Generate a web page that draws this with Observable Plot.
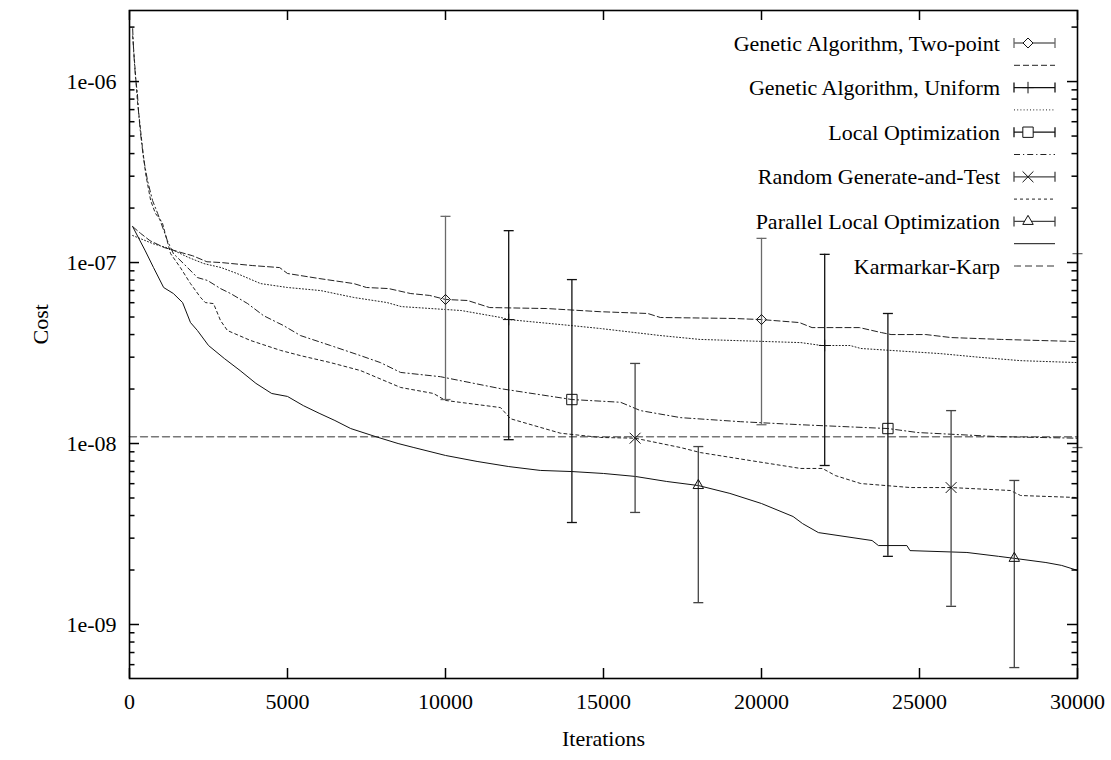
<!DOCTYPE html>
<html>
<head>
<meta charset="utf-8">
<script src="https://cdn.jsdelivr.net/npm/d3@7"></script>
<script src="https://cdn.jsdelivr.net/npm/@observablehq/plot@0.6"></script>
<style>
html, body { margin: 0; padding: 0; background: #fff; }
#wrap { position: relative; width: 1111px; height: 760px; }
#wrap > svg { display: block; }
#legend { position: absolute; left: 0; top: 0; pointer-events: none; }
</style>
</head>
<body>
<div id="wrap"></div>
<script>
// ---------- Data ----------
const seriesNames = [
  "Genetic Algorithm, Two-point",
  "Genetic Algorithm, Uniform",
  "Local Optimization",
  "Random Generate-and-Test",
  "Parallel Local Optimization"
];
const kkName = "Karmarkar-Karp";

const ga2It   = [100, 350, 650, 1100, 1600, 2000, 2450, 2900, 3900, 4750, 5000, 6000, 7100, 7500, 8200, 8900, 9500, 10000, 10700, 11400, 13200, 14900, 16400, 16800, 19100, 20000, 21200, 21600, 23100, 23800, 24100, 25200, 26000, 27600, 30000];
const ga2Cost = [1.58e-7, 1.45e-7, 1.32e-7, 1.21e-7, 1.14e-7, 1.09e-7, 1.01e-7, 1.00e-7, 9.62e-8, 9.38e-8, 8.70e-8, 8.16e-8, 7.65e-8, 7.28e-8, 7.18e-8, 6.74e-8, 6.58e-8, 6.25e-8, 6.17e-8, 5.64e-8, 5.57e-8, 5.35e-8, 5.23e-8, 4.97e-8, 4.91e-8, 4.84e-8, 4.66e-8, 4.37e-8, 4.37e-8, 4.10e-8, 4.00e-8, 4.00e-8, 3.85e-8, 3.76e-8, 3.66e-8];

const gauIt   = [100, 750, 1300, 1850, 2350, 2900, 3400, 4150, 5000, 6050, 7100, 8150, 8600, 10500, 11750, 12000, 13950, 14900, 16800, 18050, 21250, 21900, 22800, 23150, 25650, 26950, 28200, 30000];
const gauCost = [1.41e-7, 1.27e-7, 1.19e-7, 1.07e-7, 9.87e-8, 9.38e-8, 8.70e-8, 7.65e-8, 7.28e-8, 7.00e-8, 6.41e-8, 6.01e-8, 5.71e-8, 5.43e-8, 4.97e-8, 4.84e-8, 4.49e-8, 4.32e-8, 3.95e-8, 3.76e-8, 3.61e-8, 3.48e-8, 3.48e-8, 3.35e-8, 3.14e-8, 2.99e-8, 2.87e-8, 2.80e-8];

const loIt   = [100, 130, 190, 250, 290, 350, 440, 570, 730, 890, 1200, 1390, 1710, 2150, 2470, 2880, 3200, 3740, 4240, 4680, 4870, 5410, 6360, 7310, 7940, 8580, 9840, 11740, 14000, 15540, 16170, 17440, 19340, 21240, 24000, 24940, 27570, 30000];
const loCost = [1.96e-6, 1.48e-6, 1.05e-6, 8.59e-7, 6.65e-7, 5.16e-7, 3.80e-7, 2.84e-7, 2.20e-7, 1.87e-7, 1.32e-7, 1.12e-7, 9.87e-8, 8.26e-8, 7.96e-8, 7.18e-8, 6.74e-8, 5.93e-8, 5.09e-8, 4.66e-8, 4.49e-8, 3.95e-8, 3.48e-8, 3.06e-8, 2.80e-8, 2.47e-8, 2.34e-8, 2.01e-8, 1.75e-8, 1.69e-8, 1.52e-8, 1.39e-8, 1.32e-8, 1.27e-8, 1.21e-8, 1.15e-8, 1.09e-8, 1.07e-8];

const rgtIt   = [100, 250, 410, 510, 670, 820, 1040, 1300, 1610, 1930, 2250, 2400, 2660, 2880, 3100, 3830, 4780, 5410, 6360, 7310, 8580, 9620, 10000, 11740, 12060, 13640, 14900, 16000, 17440, 18070, 19650, 21240, 21930, 22340, 23140, 24720, 26000, 27880, 28200, 30000];
const rgtCost = [1.79e-6, 7.85e-7, 4.32e-7, 3.10e-7, 2.20e-7, 1.87e-7, 1.66e-7, 1.12e-7, 9.38e-8, 7.65e-8, 6.41e-8, 6.01e-8, 5.93e-8, 4.78e-8, 4.21e-8, 3.71e-8, 3.27e-8, 3.06e-8, 2.80e-8, 2.53e-8, 2.04e-8, 1.89e-8, 1.73e-8, 1.58e-8, 1.37e-8, 1.14e-8, 1.08e-8, 1.07e-8, 9.50e-9, 8.91e-9, 8.05e-9, 7.28e-9, 7.28e-9, 6.65e-9, 6.01e-9, 5.71e-9, 5.71e-9, 5.50e-9, 5.16e-9, 5.03e-9];

const ploIt   = [100, 500, 760, 1080, 1390, 1680, 1930, 2150, 2500, 3000, 3500, 4000, 4500, 5000, 5500, 6000, 6500, 7000, 7800, 8500, 9000, 10000, 11000, 12000, 13000, 14000, 15000, 16000, 17000, 18000, 19000, 20000, 21000, 21300, 21800, 23500, 23700, 24600, 24700, 26500, 27500, 28000, 29000, 29500, 30000];
const ploCost = [1.58e-7, 1.16e-7, 9.38e-8, 7.28e-8, 6.74e-8, 6.01e-8, 4.66e-8, 4.21e-8, 3.48e-8, 2.95e-8, 2.53e-8, 2.15e-8, 1.89e-8, 1.82e-8, 1.62e-8, 1.47e-8, 1.34e-8, 1.21e-8, 1.09e-8, 1.00e-8, 9.50e-9, 8.59e-9, 7.96e-9, 7.46e-9, 7.10e-9, 7.00e-9, 6.83e-9, 6.58e-9, 6.17e-9, 5.86e-9, 5.30e-9, 4.66e-9, 3.95e-9, 3.61e-9, 3.22e-9, 2.91e-9, 2.73e-9, 2.73e-9, 2.56e-9, 2.50e-9, 2.38e-9, 2.32e-9, 2.20e-9, 2.12e-9, 1.99e-9];

const kkIt   = [0, 30000];
const kkCost = [1.09e-8, 1.09e-8];

// error bars (iteration, value, low, high)
const ga2ErrIt = [10000, 20000, 30000];
const ga2ErrVal = [6.25e-8, 4.84e-8, 3.66e-8];
const ga2ErrLo = [1.75e-8, 1.27e-8, 9.5e-9];
const ga2ErrHi = [1.80e-7, 1.36e-7, 1.12e-7];

const gauErrIt = [12000, 22000];
const gauErrVal = [4.84e-8, 3.48e-8];
const gauErrLo = [1.05e-8, 7.56e-9];
const gauErrHi = [1.50e-7, 1.11e-7];

const loErrIt = [14000, 24000];
const loErrVal = [1.75e-8, 1.21e-8];
const loErrLo = [3.66e-9, 2.38e-9];
const loErrHi = [8.05e-8, 5.23e-8];

const rgtErrIt = [16000, 26000];
const rgtErrVal = [1.07e-8, 5.71e-9];
const rgtErrLo = [4.16e-9, 1.26e-9];
const rgtErrHi = [2.77e-8, 1.52e-8];

const ploErrIt = [18000, 28000];
const ploErrVal = [5.86e-9, 2.32e-9];
const ploErrLo = [1.32e-9, 5.78e-10];
const ploErrHi = [9.62e-9, 6.25e-9];

// ticks
const xTicks = [0, 5000, 10000, 15000, 20000, 25000, 30000];
const xTickLabels = ["0", "5000", "10000", "15000", "20000", "25000", "30000"];
const yMajorTicks = [1e-9, 1e-8, 1e-7, 1e-6];
const yTickLabels = ["1e-09", "1e-08", "1e-07", "1e-06"];
const yMinorMult = [2, 3, 4, 5, 6, 7, 8, 9];
const yDecades = [1e-10, 1e-9, 1e-8, 1e-7, 1e-6];

// ---------- Layout & styles ----------
const W = 1111, H = 760;
const M = {left: 129, right: 34, top: 10, bottom: 82};
const frameW = W - M.left - M.right;   // 948
const frameH = H - M.top - M.bottom;   // 668
const majorLen = 10, minorLen = 5.5;

const lineDash  = ["6,3", "1,2.2", "6,3,1.2,3", "3,3", null];
const lineColor = ["#222", "#222", "#222", "#222", "#111"];
const errColor  = ["#6a6a6a", "#111", "#111", "#444", "#444"];
const markerSym = ["diamond2", "plus", "square2", "times", "triangle2"];
const markerR   = [4.5, 3.8, 6.6, 5, 5];
const d3Sym     = [d3.symbolDiamond2, d3.symbolPlus, d3.symbolSquare2, d3.symbolTimes, d3.symbolTriangle2];
const kkColor = "#777";
const kkDash = "7,4";
const FONT = "'Liberation Serif','Times New Roman',Times,serif";

// ---------- Tables ----------
const lineIts = [ga2It, gauIt, loIt, rgtIt, ploIt];
const lineCosts = [ga2Cost, gauCost, loCost, rgtCost, ploCost];
const errIts = [ga2ErrIt, gauErrIt, loErrIt, rgtErrIt, ploErrIt];
const errVals = [ga2ErrVal, gauErrVal, loErrVal, rgtErrVal, ploErrVal];
const errLos = [ga2ErrLo, gauErrLo, loErrLo, rgtErrLo, ploErrLo];
const errHis = [ga2ErrHi, gauErrHi, loErrHi, rgtErrHi, ploErrHi];

const lineData = seriesNames.map((s, i) => lineIts[i].map((it, j) => ({series: s, it, cost: lineCosts[i][j]})));
const errData = seriesNames.map((s, i) => errIts[i].map((it, j) => ({series: s, it, cost: errVals[i][j], lo: errLos[i][j], hi: errHis[i][j]})));
const kkData = kkIt.map((it, j) => ({series: kkName, it, cost: kkCost[j]}));

const yDomain = [5.03e-10, 2.47e-6];
const yMinorTicks = yDecades.flatMap(d => yMinorMult.map(m => d * m)).filter(v => v >= yDomain[0] && v <= yDomain[1]);

// error-bar cap symbol
const capSymbol = {
  draw(ctx, size) { const r = Math.sqrt(size / Math.PI); ctx.moveTo(-r, 0); ctx.lineTo(r, 0); }
};

const marks = [];
// Karmarkar-Karp reference
marks.push(Plot.line(kkData, {x: "it", y: "cost", stroke: kkColor, strokeWidth: 1.4, strokeDasharray: kkDash}));
// series lines
seriesNames.forEach((s, i) => {
  marks.push(Plot.line(lineData[i], {x: "it", y: "cost", stroke: lineColor[i], strokeWidth: 1, strokeDasharray: lineDash[i] || undefined}));
});
// error bars + markers
seriesNames.forEach((s, i) => {
  marks.push(Plot.ruleX(errData[i], {x: "it", y1: "lo", y2: "hi", stroke: errColor[i], strokeWidth: 1.3}));
  marks.push(Plot.dot(errData[i], {x: "it", y: "lo", symbol: capSymbol, r: 5, stroke: errColor[i], strokeWidth: 1.3, fill: "none"}));
  marks.push(Plot.dot(errData[i], {x: "it", y: "hi", symbol: capSymbol, r: 5, stroke: errColor[i], strokeWidth: 1.3, fill: "none"}));
  marks.push(Plot.dot(errData[i].filter(d => d.it < 30000), {x: "it", y: "cost", symbol: markerSym[i], r: markerR[i], stroke: "#111", strokeWidth: 1, fill: "none"}));
});
// axes: tick labels
const xFmt = d => xTickLabels[xTicks.indexOf(d)];
const yFmt = d => yTickLabels[yMajorTicks.indexOf(d)];
marks.push(Plot.axisX(xTicks, {anchor: "bottom", tickSize: 0, tickPadding: 15, tickFormat: xFmt, label: null, fontSize: 22}));
marks.push(Plot.axisY(yMajorTicks, {anchor: "left", tickSize: 0, tickPadding: 13, tickFormat: yFmt, label: null, fontSize: 22}));
// inward tick marks on all four sides (rules shortened with insets)
const tk = {stroke: "#000", strokeWidth: 1.5};
marks.push(Plot.ruleX(xTicks, {x: d => d, insetTop: frameH - majorLen, ...tk}));
marks.push(Plot.ruleX(xTicks, {x: d => d, insetBottom: frameH - majorLen, ...tk}));
marks.push(Plot.ruleY(yMajorTicks, {y: d => d, insetRight: frameW - majorLen, ...tk}));
marks.push(Plot.ruleY(yMajorTicks, {y: d => d, insetLeft: frameW - majorLen, ...tk}));
marks.push(Plot.ruleY(yMinorTicks, {y: d => d, insetRight: frameW - minorLen, ...tk}));
marks.push(Plot.ruleY(yMinorTicks, {y: d => d, insetLeft: frameW - minorLen, ...tk}));
// axis titles
marks.push(Plot.text(["Iterations"], {frameAnchor: "bottom", dy: 67, text: d => d, fontSize: 22}));
marks.push(Plot.text(["Cost"], {frameAnchor: "left", dx: -89, rotate: -90, text: d => d, fontSize: 22}));
marks.push(Plot.frame({stroke: "#000", strokeWidth: 1.6}));

const chart = Plot.plot({
  width: W,
  height: H,
  marginLeft: M.left,
  marginRight: M.right,
  marginTop: M.top,
  marginBottom: M.bottom,
  style: {fontFamily: FONT, fontSize: "22px", background: "#fff", color: "#000", overflow: "visible"},
  x: {domain: [0, 30000]},
  y: {type: "log", domain: yDomain},
  marks
});
const wrap = document.getElementById("wrap");
wrap.appendChild(chart);

// ---------- Legend (overlay) ----------
const legendRows = [];
seriesNames.forEach((s, i) => {
  legendRows.push({label: s, type: "err", i});
  legendRows.push({label: "", type: "line", i});
});
legendRows.push({label: kkName, type: "kk"});

const lg = d3.select(wrap).append("svg")
  .attr("id", "legend")
  .attr("width", W).attr("height", H)
  .style("font-family", FONT).style("font-size", "22px");
const textRight = 1000, sx0 = 1014, sx1 = 1055, markX = 1028, rowY0 = 43, rowH = 22.3;
legendRows.forEach((row, k) => {
  const y = rowY0 + k * rowH;
  const g = lg.append("g");
  if (row.label) {
    g.append("text").attr("x", textRight).attr("y", y).attr("text-anchor", "end")
      .attr("dominant-baseline", "central").attr("fill", "#000").text(row.label);
  }
  if (row.type === "err") {
    const c = errColor[row.i];
    g.append("line").attr("x1", sx0).attr("x2", sx1).attr("y1", y).attr("y2", y).attr("stroke", c).attr("stroke-width", 1.3);
    g.append("line").attr("x1", sx0).attr("x2", sx0).attr("y1", y - 5).attr("y2", y + 5).attr("stroke", c).attr("stroke-width", 1.3);
    g.append("line").attr("x1", sx1).attr("x2", sx1).attr("y1", y - 5).attr("y2", y + 5).attr("stroke", c).attr("stroke-width", 1.3);
    g.append("path").attr("transform", `translate(${markX},${y})`)
      .attr("d", d3.symbol(d3Sym[row.i], Math.PI * markerR[row.i] * markerR[row.i])())
      .attr("fill", "#fff").attr("stroke", "#111").attr("stroke-width", 1);
  } else if (row.type === "line") {
    g.append("line").attr("x1", sx0).attr("x2", sx1).attr("y1", y).attr("y2", y)
      .attr("stroke", lineColor[row.i]).attr("stroke-width", 1)
      .attr("stroke-dasharray", lineDash[row.i] || null);
  } else {
    g.append("line").attr("x1", sx0).attr("x2", sx1).attr("y1", y).attr("y2", y)
      .attr("stroke", kkColor).attr("stroke-width", 1.4).attr("stroke-dasharray", kkDash);
  }
});
</script>
</body>
</html>
